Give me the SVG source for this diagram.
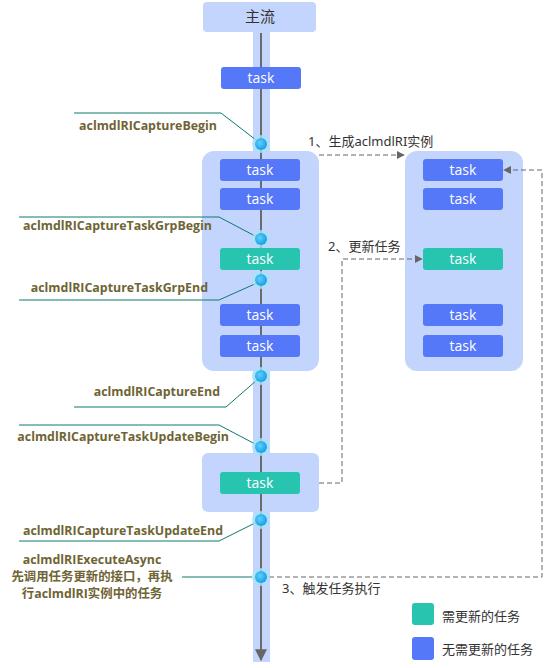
<svg xmlns="http://www.w3.org/2000/svg" width="546" height="668" viewBox="0 0 546 668">
<defs>
<radialGradient id="dotg" cx="0.4" cy="0.4" r="0.7">
<stop offset="0" stop-color="#5fd0ff"/>
<stop offset="1" stop-color="#1196e0"/>
</radialGradient>
<marker id="ah" viewBox="0 0 10 10" refX="9" refY="5" markerWidth="8" markerHeight="8" markerUnits="userSpaceOnUse" orient="auto">
<path d="M0,0 L10,5 L0,10 z" fill="#666"/>
</marker>
<marker id="bigah" viewBox="0 0 10 10" refX="9" refY="5" markerWidth="12" markerHeight="12" markerUnits="userSpaceOnUse" orient="auto">
<path d="M0,0 L10,5 L0,10 z" fill="#666"/>
</marker>
</defs>
<style>
.grp{fill:#c3d5fd}
.tb{fill:#5478f8}
.tg{fill:#27c4b0}
.tt{font-family:"Open Sans","Noto Sans",sans-serif;font-size:14px;fill:#fff;text-anchor:middle}
.lbl{font-family:"Open Sans","Noto Sans","Noto Sans CJK SC",sans-serif;font-size:12.4px;font-weight:bold;fill:#6e6434}
.ld{stroke:#0d7a6a;stroke-width:1;fill:none}
.dash{stroke:#666;stroke-width:1;stroke-dasharray:5,3;fill:none}
.note{font-family:"Noto Sans","Noto Sans CJK SC",sans-serif;font-size:13px;fill:#333}
.halo{fill:#a6e3fb;opacity:0.8}
.dot{fill:url(#dotg)}
</style>
<g id="mainstream">
<rect x="253" y="30" width="17" height="632" fill="#c3d5fd"/>
<rect x="203" y="2" width="113" height="30" rx="4" class="grp"/>
<text x="260" y="22" font-family="Noto Sans CJK SC,sans-serif" font-size="15" fill="#333" text-anchor="middle">主流</text>
</g>
<g id="capture-group"><rect x="202" y="151" width="117" height="220" rx="12" class="grp"/></g>
<g id="update-group"><rect x="202" y="453" width="117" height="59" rx="6" class="grp"/></g>
<g id="instance-group"><rect x="405" y="151" width="118" height="220" rx="12" class="grp"/></g>
<line x1="261" y1="33" x2="261" y2="660" stroke="#6b6b6b" stroke-width="2" marker-end="url(#bigah)"/>
<g id="task-top"><rect x="221" y="67" width="80" height="22" rx="3" class="tb"/><text x="261" y="83" class="tt">task</text></g>
<g id="cap-task1"><rect x="220" y="159" width="80" height="22" rx="3" class="tb"/><text x="260" y="175" class="tt">task</text></g>
<g id="cap-task2"><rect x="220" y="188" width="80" height="22" rx="3" class="tb"/><text x="260" y="204" class="tt">task</text></g>
<g id="cap-task3"><rect x="220" y="248" width="80" height="22" rx="3" class="tg"/><text x="260" y="264" class="tt">task</text></g>
<g id="cap-task4"><rect x="220" y="304" width="80" height="22" rx="3" class="tb"/><text x="260" y="320" class="tt">task</text></g>
<g id="cap-task5"><rect x="220" y="335" width="80" height="22" rx="3" class="tb"/><text x="260" y="351" class="tt">task</text></g>
<g id="upd-task"><rect x="220" y="472" width="80" height="22" rx="3" class="tg"/><text x="260" y="488" class="tt">task</text></g>
<g id="ins-task1"><rect x="423" y="159" width="80" height="22" rx="3" class="tb"/><text x="463" y="175" class="tt">task</text></g>
<g id="ins-task2"><rect x="423" y="188" width="80" height="22" rx="3" class="tb"/><text x="463" y="204" class="tt">task</text></g>
<g id="ins-task3"><rect x="423" y="248" width="80" height="22" rx="3" class="tg"/><text x="463" y="264" class="tt">task</text></g>
<g id="ins-task4"><rect x="423" y="304" width="80" height="22" rx="3" class="tb"/><text x="463" y="320" class="tt">task</text></g>
<g id="ins-task5"><rect x="423" y="335" width="80" height="22" rx="3" class="tb"/><text x="463" y="351" class="tt">task</text></g>
<g id="connectors">
<polyline class="ld" points="74,113 221,113 256,140"/>
<polyline class="ld" points="19,217 219,217 257,237"/>
<polyline class="ld" points="19,300 219,300 257,283"/>
<polyline class="ld" points="74,407 226,407 257,380"/>
<polyline class="ld" points="19,425 219,425 257,445"/>
<polyline class="ld" points="19,541 219,541 257,522"/>
<line class="ld" x1="182" y1="577" x2="252" y2="577"/>
<polyline class="dash" points="319,155 404,155" marker-end="url(#ah)"/>
<polyline class="dash" points="319,483 342,483 342,259 422,259" marker-end="url(#ah)"/>
<polyline class="dash" points="269,577 542,577 542,170 504,170" marker-end="url(#ah)"/>
</g>
<g id="dots">
<circle cx="261" cy="144" r="9" class="halo"/><circle cx="261" cy="144" r="6" class="dot"/>
<circle cx="261" cy="239" r="9" class="halo"/><circle cx="261" cy="239" r="6" class="dot"/>
<circle cx="261" cy="280" r="9" class="halo"/><circle cx="261" cy="280" r="6" class="dot"/>
<circle cx="261" cy="376" r="9" class="halo"/><circle cx="261" cy="376" r="6" class="dot"/>
<circle cx="261" cy="447" r="9" class="halo"/><circle cx="261" cy="447" r="6" class="dot"/>
<circle cx="261" cy="520" r="9" class="halo"/><circle cx="261" cy="520" r="6" class="dot"/>
<circle cx="261" cy="577" r="9" class="halo"/><circle cx="261" cy="577" r="6" class="dot"/>
</g>
<g id="labels">
<text x="217" y="130" class="lbl" text-anchor="end">aclmdlRICaptureBegin</text>
<text x="212" y="230" class="lbl" text-anchor="end">aclmdlRICaptureTaskGrpBegin</text>
<text x="208" y="292" class="lbl" text-anchor="end">aclmdlRICaptureTaskGrpEnd</text>
<text x="220" y="396" class="lbl" text-anchor="end">aclmdlRICaptureEnd</text>
<text x="229" y="441" class="lbl" text-anchor="end">aclmdlRICaptureTaskUpdateBegin</text>
<text x="223" y="535" class="lbl" text-anchor="end">aclmdlRICaptureTaskUpdateEnd</text>
<text x="92" y="564" class="lbl" text-anchor="middle">aclmdlRIExecuteAsync</text>
<text x="92" y="581" class="lbl" text-anchor="middle">先调用任务更新的接口，再执</text>
<text x="92" y="598" class="lbl" text-anchor="middle">行aclmdlRI实例中的任务</text>
<text x="308" y="146" class="note">1、生成aclmdlRI实例</text>
<text x="328" y="251" class="note">2、更新任务</text>
<text x="282" y="593" class="note">3、触发任务执行</text>
</g>
<g id="legend">
<rect x="412" y="603" width="22" height="22" rx="3" class="tg"/>
<text x="442" y="621" class="note">需更新的任务</text>
<rect x="412" y="637" width="22" height="23" rx="3" class="tb"/>
<text x="442" y="654" class="note">无需更新的任务</text>
</g>
</svg>
